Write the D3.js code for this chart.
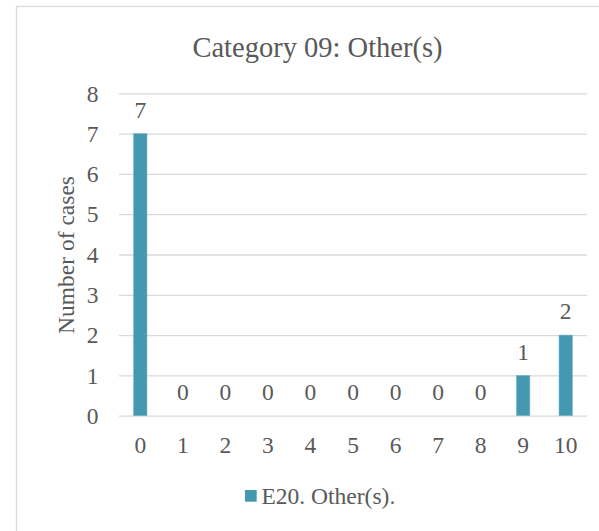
<!DOCTYPE html>
<html><head><meta charset="utf-8">
<script src="https://cdn.jsdelivr.net/npm/d3@7"></script>
<style>
html,body{margin:0;padding:0;background:#fff;}
svg{display:block;}
</style></head>
<body>
<svg id="chart" width="599" height="531" font-family="Liberation Serif"></svg>
<script>
const categories = ["0","1","2","3","4","5","6","7","8","9","10"];
const values = [7,0,0,0,0,0,0,0,0,1,2];
const yTicks = [0,1,2,3,4,5,6,7,8];
const seriesName = "E20. Other(s).";
const title = "Category 09: Other(s)";
const yTitle = "Number of cases";

(function(){
const FONT = "Liberation Serif";
const TXT = "#595959";
const svg = d3.select("#chart");
const W = 599, H = 531;
const pLeft = 119, pRight = 587, pTop = 93.3, pBottom = 415.7;
const barColor = "#4499b1";
const gridColor = "#d9d9d9";

// outer border (extends off canvas to right/bottom)
svg.append("rect").attr("x",16.5).attr("y",6.5).attr("width",W).attr("height",H)
  .attr("fill","none").attr("stroke",gridColor).attr("stroke-width",1.3);

const x = d3.scaleBand().domain(categories).range([pLeft,pRight]).paddingInner(0.685).paddingOuter(0.3425);
const y = d3.scaleLinear().domain([0,8]).range([pBottom,pTop]);

// gridlines + y tick labels
const yAxis = d3.axisLeft(y).tickValues(yTicks).tickSize(-(pRight-pLeft)).tickPadding(20.5).tickFormat(d3.format("d"));
const gy = svg.append("g").attr("transform",`translate(${pLeft},0)`).call(yAxis)
  .attr("font-family",FONT).attr("font-size",23.5);
gy.select(".domain").remove();
gy.selectAll(".tick line").attr("stroke",gridColor).attr("stroke-width",1.3);
gy.selectAll(".tick text").attr("fill",TXT).attr("font-family",FONT).attr("font-size",23.5).attr("dy","0.33em");

// x axis labels
const xAxis = d3.axisBottom(x).tickSize(0).tickPadding(0);
const gx = svg.append("g").attr("transform",`translate(0,${pBottom})`).call(xAxis)
  .attr("font-family",FONT).attr("font-size",23.5);
gx.select(".domain").remove();
gx.selectAll(".tick text").attr("fill",TXT).attr("font-family",FONT).attr("font-size",23.5)
  .attr("dy",null).attr("y",37);

// bars
svg.append("g").selectAll("rect").data(values).join("rect")
  .attr("x",(d,i)=>x(categories[i]))
  .attr("width",x.bandwidth())
  .attr("y",d=>y(d))
  .attr("height",d=>y(0)-y(d))
  .attr("fill",barColor)
  .attr("stroke","#7cb6c7").attr("stroke-width",0.6);

// data labels
svg.append("g").selectAll("text").data(values).join("text")
  .attr("x",(d,i)=>x(categories[i])+x.bandwidth()/2)
  .attr("y",d=>y(d)-15.7)
  .attr("text-anchor","middle")
  .attr("font-family",FONT).attr("font-size",23.5).attr("fill",TXT)
  .text(d=>d);

// title
svg.append("text").attr("x",317.5).attr("y",56.7).attr("text-anchor","middle")
  .attr("font-family",FONT).attr("font-size",28.5).attr("fill",TXT).text(title);

// y-axis title
svg.append("text").attr("transform","translate(74,255) rotate(-90)")
  .attr("text-anchor","middle").attr("font-family",FONT).attr("font-size",23.5).attr("fill",TXT).text(yTitle);

// legend
svg.append("rect").attr("x",245).attr("y",490).attr("width",11.7).attr("height",11.7).attr("fill",barColor);
svg.append("text").attr("x",261.5).attr("y",504).attr("font-family",FONT).attr("font-size",23.5).attr("fill",TXT).text(seriesName);
})();
</script>
</body></html>
